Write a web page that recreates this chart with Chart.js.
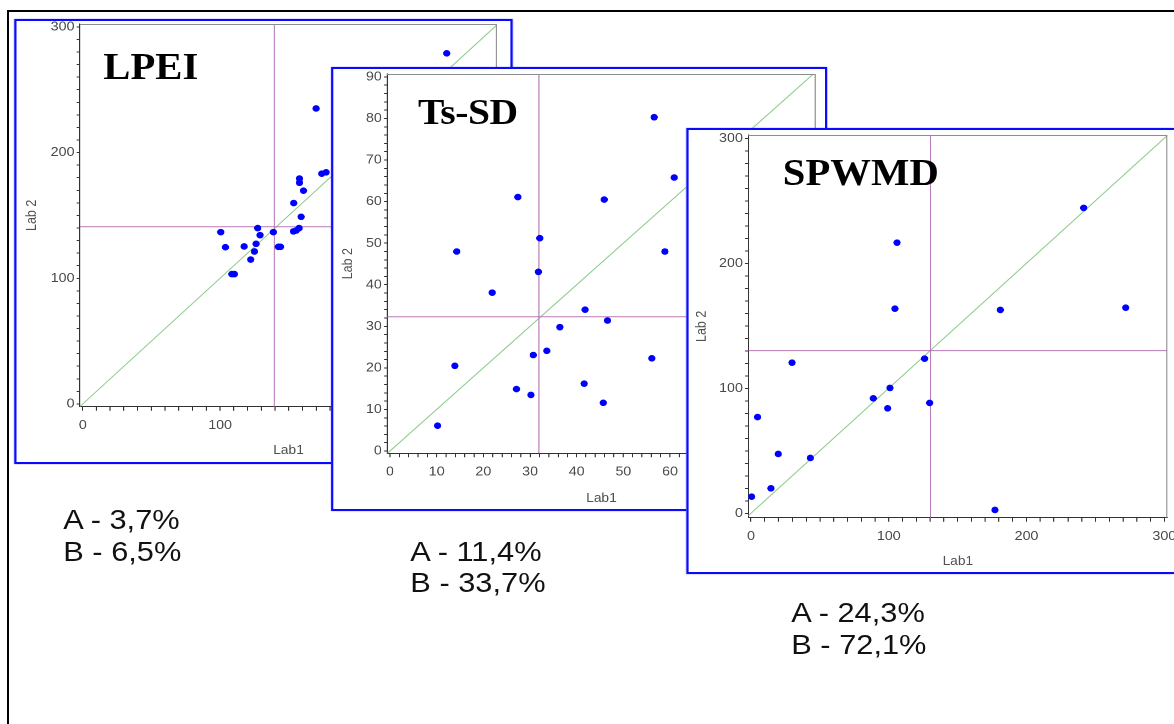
<!DOCTYPE html>
<html>
<head>
<meta charset="utf-8">
<script src="https://cdn.jsdelivr.net/npm/chart.js@4.4.1/dist/chart.umd.min.js"></script>
<style>
  html, body { margin: 0; padding: 0; background: #fff; overflow: hidden; width: 1174px; height: 724px; }
  #outer { position: absolute; left: 7px; top: 10px; width: 1300px; height: 800px; border-top: 2px solid #000; border-left: 2px solid #000; }
  /* the whole picture is stretched 1.1x horizontally */
  #stage { position: absolute; left: 0; top: 0; width: 1068px; height: 724px; transform: scaleX(1.1); transform-origin: 0 0; }
  .frame { position: absolute; box-sizing: border-box; border: 2px solid #0a0aff; background: #fff; box-shadow: 0 0 1px rgba(0,0,255,0.6); }
  canvas { position: absolute; }
  .title { position: absolute; font-family: 'Liberation Serif', 'Times New Roman', serif; font-weight: bold; font-size: 37px; line-height: 37px; white-space: nowrap; color: #000; }
  .pct { position: absolute; font-family: 'Liberation Sans', Arial, sans-serif; font-size: 28px; line-height: 31.7px; color: #111; white-space: nowrap; }
</style>
</head>
<body>
<div id="outer"></div>
<div id="stage">
  <div class="frame" style="left:13.2px; top:19px; width:453.2px; height:445px;"></div>
  <canvas id="lpei" width="480" height="480" style="left:0px; top:0px;"></canvas>
  <div class="title" style="left:93.9px; top:48px;">LPEI</div>

  <div class="frame" style="left:301.4px; top:66.7px; width:451.1px; height:444px;"></div>
  <canvas id="tssd" width="470" height="470" style="left:290px; top:55px;"></canvas>
  <div class="title" style="left:379.9px; top:94px; font-size:36px; line-height:36px; letter-spacing:-0.4px;">Ts-SD</div>

  <div class="frame" style="left:623.6px; top:127.7px; width:500px; height:446.3px;"></div>
  <canvas id="spwmd" width="470" height="470" style="left:620px; top:120px;"></canvas>
  <div class="title" style="left:711.7px; top:154px;">SPWMD</div>

  <div class="pct" style="left:57.5px; top:503.8px;">A - 3,7%<br>B - 6,5%</div>
  <div class="pct" style="left:373px; top:535.5px;">A - 11,4%<br>B - 33,7%</div>
  <div class="pct" style="left:719.3px; top:596.8px;">A - 24,3%<br>B - 72,1%</div>
</div>

<script>
// LPEI
const lpeiLab1 = [100.5, 103.9, 108.6, 110.4, 117.5, 122.3, 125, 126.2, 127.4, 129.1, 138.8, 142.4, 144, 153.6, 153.4, 155.4, 157.5, 157.8, 157.8, 159, 160.7, 169.9, 174, 177.2, 265];
const lpeiLab2 = [136.7, 124.7, 103.3, 103.3, 125.3, 114.9, 121.3, 127.4, 139.9, 134.3, 136.7, 125, 125, 159.8, 137.3, 138, 139.9, 179.3, 176, 148.9, 169.7, 235.1, 183.2, 184.3, 279];
const lpeiMean = [139.5, 141];
const lpeiXRange = [-2, 301.6];
const lpeiYRange = [-2.2, 302.3];

// Ts-SD
const tssdLab1 = [10.2, 13.9, 14.3, 21.9, 27.1, 27.4, 30.2, 30.7, 31.8, 32.1, 33.6, 36.4, 41.6, 41.8, 45.7, 45.9, 46.6, 56.1, 56.6, 58.9, 60.9];
const tssdLab2 = [6.1, 20.5, 48, 38.1, 14.9, 61.1, 13.5, 23.1, 43.1, 51.2, 24.1, 29.8, 16.2, 34, 11.6, 60.5, 31.4, 22.3, 80.3, 48, 65.8];
const tssdMean = [31.9, 32.3];
const tssdXRange = [-0.57, 91.2];
const tssdYRange = [-0.55, 90.7];

// SPWMD
const spwmdLab1 = [0.5, 4.8, 14.5, 19.8, 29.8, 43.1, 88.8, 99.2, 100.9, 104.5, 106, 126, 129.7, 177.1, 181, 241.5, 272];
const spwmdLab2 = [13.3, 77, 20, 47.5, 120.5, 44.3, 92, 84, 100.3, 163.7, 216.5, 123.7, 88.3, 2.7, 162.7, 244.3, 164.5];
const spwmdMean = [130.4, 130.1];
const spwmdXRange = [-1.9, 302.2];
const spwmdYRange = [-3.5, 302.6];

// gray top/right edges of the plot box
const boxPlugin = {
  id: 'box',
  afterDraw(chart) {
    const { left, top, right, bottom } = chart.chartArea;
    const ctx = chart.ctx;
    ctx.save();
    ctx.strokeStyle = '#8c8c8c';
    ctx.lineWidth = 1;
    ctx.beginPath();
    ctx.moveTo(left, top + 0.5);
    ctx.lineTo(right - 0.5, top + 0.5);
    ctx.lineTo(right - 0.5, bottom);
    ctx.stroke();
    ctx.restore();
  }
};

function makeChart(id, xs, ys, mean, xRange, yRange, minor, major, layout) {
  const tickFont = { family: "'Liberation Sans', Arial, sans-serif", size: 13 };
  const titleFont = { family: "'Liberation Sans', Arial, sans-serif", size: 12.5, lineHeight: 1.2 };
  const label = v => (Math.abs(v % major) < 1e-9 ? String(v) : '');

  new Chart(document.getElementById(id), {
    type: 'scatter',
    data: {
      datasets: [
        {
          data: xs.map((x, i) => ({ x: x, y: ys[i] })),
          backgroundColor: '#0000ff',
          borderColor: '#0000ff',
          borderWidth: 0,
          pointRadius: 3.3,
          pointHoverRadius: 3.3,
          order: 0
        },
        {
          data: [{ x: mean[0], y: yRange[0] }, { x: mean[0], y: yRange[1] }],
          showLine: true, borderColor: '#b878b8', borderWidth: 1, pointRadius: 0, order: 1
        },
        {
          data: [{ x: xRange[0], y: mean[1] }, { x: xRange[1], y: mean[1] }],
          showLine: true, borderColor: '#b878b8', borderWidth: 1, pointRadius: 0, order: 1
        },
        {
          data: [{ x: xRange[0], y: xRange[0] }, { x: xRange[1], y: xRange[1] }],
          showLine: true, borderColor: '#8ccc8c', borderWidth: 1, pointRadius: 0, order: 2
        }
      ]
    },
    options: {
      responsive: false,
      animation: false,
      devicePixelRatio: 2,
      layout: { padding: layout.pad },
      plugins: { legend: { display: false }, tooltip: { enabled: false } },
      events: [],
      scales: {
        x: {
          type: 'linear',
          min: xRange[0],
          max: xRange[1],
          afterFit: s => { s.height = layout.xH; },
          border: { color: '#333', width: 1 },
          grid: { drawOnChartArea: false, tickLength: 4, color: '#333' },
          ticks: { stepSize: minor, autoSkip: false, includeBounds: false, maxRotation: 0, padding: 7, color: '#4a4a4a', font: tickFont, callback: label },
          title: { display: true, text: 'Lab1', color: '#505050', font: titleFont, padding: { top: 0, bottom: 0 } }
        },
        y: {
          type: 'linear',
          min: yRange[0],
          max: yRange[1],
          afterFit: s => { s.width = layout.yW; },
          border: { color: '#333', width: 1 },
          grid: { drawOnChartArea: false, tickLength: 3, color: '#333' },
          ticks: { stepSize: minor, autoSkip: false, includeBounds: false, padding: 2, color: '#4a4a4a', font: tickFont, callback: label },
          title: { display: true, text: 'Lab 2', color: '#505050', font: titleFont, padding: { top: layout.yTitlePad, bottom: 0 } }
        }
      }
    },
    plugins: [boxPlugin]
  });
}

makeChart('lpei', lpeiLab1, lpeiLab2, lpeiMean, lpeiXRange, lpeiYRange, 10, 100,
  { pad: { left: 12.7, top: 24, right: 28.2, bottom: 21.8 }, yW: 60, xH: 51.5, yTitlePad: 8.6 });

makeChart('tssd', tssdLab1, tssdLab2, tssdMean, tssdXRange, tssdYRange, 2, 10,
  { pad: { left: 2.1, top: 19, right: 18.5, bottom: 19.2 }, yW: 60, xH: 52.5, yTitlePad: 17.1 });

makeChart('spwmd', spwmdLab1, spwmdLab2, spwmdMean, spwmdXRange, spwmdYRange, 10, 100,
  { pad: { left: 5.3, top: 15, right: 28.8, bottom: 20.8 }, yW: 55, xH: 51.5, yTitlePad: 5.1 });
</script>
</body>
</html>
